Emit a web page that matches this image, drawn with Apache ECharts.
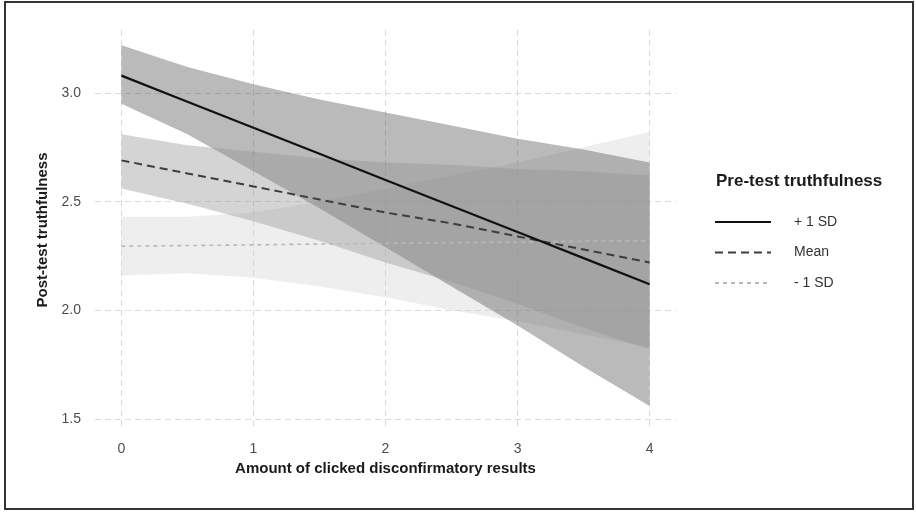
<!DOCTYPE html>
<html>
<head>
<meta charset="utf-8">
<script src="https://cdn.jsdelivr.net/npm/echarts@6/dist/echarts.min.js"></script>
<style>
  html, body { margin: 0; padding: 0; background: #fff; }
  #chart { width: 916px; height: 512px; }
</style>
</head>
<body>
<div id="chart"></div>
<script>
// ---- Data ----
const xVals = [0, 0.5, 1, 1.5, 2, 2.5, 3, 3.5, 4];
const xTicks = [0, 1, 2, 3, 4];
const yTicks = [1.5, 2.0, 2.5, 3.0];

const plusLine  = [3.08, 2.96, 2.84, 2.72, 2.60, 2.48, 2.36, 2.24, 2.12];
const plusUpper = [3.22, 3.12, 3.04, 2.97, 2.91, 2.85, 2.79, 2.74, 2.68];
const plusLower = [2.95, 2.81, 2.64, 2.47, 2.29, 2.11, 1.93, 1.74, 1.56];

const meanLine  = [2.69, 2.63, 2.57, 2.51, 2.45, 2.40, 2.34, 2.28, 2.22];
const meanUpper = [2.81, 2.76, 2.73, 2.70, 2.68, 2.67, 2.65, 2.64, 2.62];
const meanLower = [2.56, 2.49, 2.41, 2.32, 2.22, 2.13, 2.03, 1.92, 1.82];

const minusLine  = [2.295, 2.298, 2.301, 2.305, 2.308, 2.311, 2.314, 2.318, 2.321];
const minusUpper = [2.43, 2.43, 2.45, 2.50, 2.56, 2.62, 2.68, 2.75, 2.82];
const minusLower = [2.16, 2.17, 2.15, 2.11, 2.06, 2.00, 1.95, 1.89, 1.83];

const groupNames = ['+ 1 SD', 'Mean', '- 1 SD'];
const xTitle = 'Amount of clicked disconfirmatory results';
const yTitle = 'Post-test truthfulness';
const legendTitle = 'Pre-test truthfulness';

// ---- Helpers ----
const pts = arr => xVals.map((x, i) => [x, arr[i]]);

function band(id, lo, up, color) {
  return {
    type: 'custom', name: id + '_band', silent: true, z: 1,
    data: xVals.map((x, i) => [x, lo[i], up[i]]),
    encode: { x: 0, y: [1, 2] },
    renderItem: function (params, api) {
      if (params.dataIndex !== 0) return null;
      const top = xVals.map((x, i) => api.coord([x, up[i]]));
      const bottom = xVals.map((x, i) => api.coord([x, lo[i]])).reverse();
      return {
        type: 'polygon',
        shape: { points: top.concat(bottom) },
        style: { fill: color, stroke: null }
      };
    }
  };
}

const chart = echarts.init(document.getElementById('chart'), null, { renderer: 'canvas' });

const FONT = 'Liberation Sans, Arial, sans-serif';

chart.setOption({
  animation: false,
  backgroundColor: '#ffffff',
  textStyle: { fontFamily: FONT },
  title: {
    text: legendTitle,
    left: 711, top: 168,
    textStyle: { fontFamily: FONT, fontSize: 17, fontWeight: 'bold', color: '#1a1a1a' }
  },
  graphic: [{
    type: 'rect', silent: true, z: 100,
    shape: { x: 5, y: 2, width: 908, height: 507 },
    style: { fill: 'none', stroke: '#333', lineWidth: 2 }
  }],
  legend: {
    data: groupNames,
    orient: 'vertical',
    left: 709, top: 210,
    itemWidth: 56, itemHeight: 14, itemGap: 16.5,
    itemStyle: { opacity: 0 },
    textStyle: { fontFamily: FONT, fontSize: 14, color: '#333', padding: [0, 0, 0, 18] },
    selectedMode: false
  },
  grid: { left: 95, right: 240, top: 30, bottom: 82 },
  xAxis: {
    type: 'value', min: -0.2, max: 4.2,
    name: xTitle, nameLocation: 'middle', nameGap: 31,
    nameTextStyle: { fontFamily: FONT, fontSize: 15, fontWeight: 'bold', color: '#1a1a1a' },
    axisLine: { show: false },
    axisTick: { show: false, customValues: xTicks },
    axisLabel: { customValues: xTicks, fontSize: 14, color: '#4d4d4d', margin: 12, fontFamily: FONT },
    splitLine: { show: true, lineStyle: { color: '#dadada', type: [6, 4], width: 1 } }
  },
  yAxis: {
    type: 'value', min: 1.449, max: 3.29,
    name: yTitle, nameLocation: 'middle', nameGap: 45, nameRotate: 90,
    nameTextStyle: { fontFamily: FONT, fontSize: 15, fontWeight: 'bold', color: '#1a1a1a' },
    axisLine: { show: false },
    axisTick: { show: false, customValues: yTicks },
    axisLabel: { customValues: yTicks, fontSize: 14, color: '#4d4d4d', margin: 14, fontFamily: FONT,
      formatter: v => v.toFixed(1) },
    splitLine: { show: true, lineStyle: { color: '#dadada', type: [6, 4], width: 1 } }
  },
  series: [
    band('minus', minusLower, minusUpper, 'rgba(212,212,212,0.4)'),
    band('plus', plusLower, plusUpper, 'rgba(82,82,82,0.4)'),
    band('mean', meanLower, meanUpper, 'rgba(148,148,148,0.4)'),
    {
      type: 'line', name: groupNames[2], data: pts(minusLine), symbol: 'none', z: 5,
      lineStyle: { color: '#b8b8b8', width: 1.6, type: [4, 4] }, itemStyle: { color: '#b8b8b8' }
    },
    {
      type: 'line', name: groupNames[1], data: pts(meanLine), symbol: 'none', z: 6,
      lineStyle: { color: '#3d3d3d', width: 2, type: [8, 5] }, itemStyle: { color: '#3d3d3d' }
    },
    {
      type: 'line', name: groupNames[0], data: pts(plusLine), symbol: 'none', z: 7,
      lineStyle: { color: '#111', width: 2.2, type: 'solid' }, itemStyle: { color: '#111' }
    }
  ]
});
</script>
</body>
</html>
